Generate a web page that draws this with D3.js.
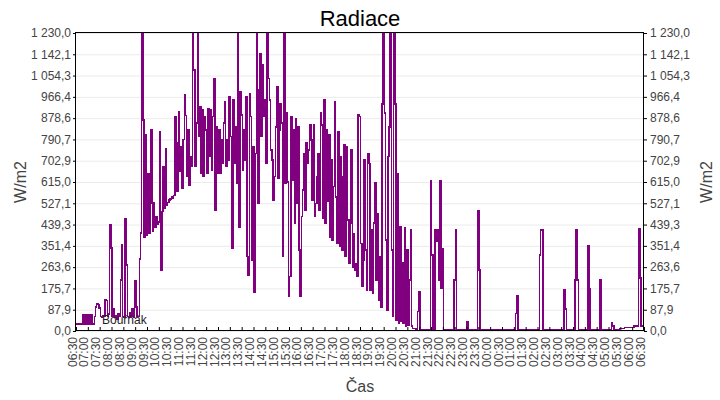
<!DOCTYPE html>
<html>
<head>
<meta charset="utf-8">
<script src="https://cdn.jsdelivr.net/npm/d3@7"></script>
<style>
  body { margin: 0; background: #fff; }
  text { font-family: "Liberation Sans", Arial, sans-serif; }
</style>
</head>
<body>
<div id="chart"></div>
<script>
// samples every 3 minutes, starting 06:30
const sampleMinutes = 3
const startTime = new Date(2024, 5, 1, 6, 30)
const endTime = new Date(2024, 5, 2, 6, 30)

const yTicks = [0, 87.9, 175.7, 263.6, 351.4, 439.3, 527.1, 615.0, 702.9, 790.7, 878.6, 966.4, 1054.3, 1142.1, 1230.0]
const seriesName = "Bouřňák"

const radiace = [
  // 06:30
  28,28,28,28,28,28,28,28,28,28,28,28,28,28,28,28,60,100,112,110,
  // 07:30
  95,60,55,65,60,130,125,60,70,437,342,60,90,55,65,50,70,60,210,355,
  // 08:30
  60,55,462,272,60,55,75,60,90,55,208,100,60,60,297,404,1230,871,389,809,
  // 09:30
  395,651,405,528,830,410,528,430,470,440,450,823,252,493,678,505,754,520,530,540,
  // 10:30
  545,555,548,560,885,776,575,905,660,760,590,790,974,890,640,830,600,720,680,1230,
  // 11:30
  1077,678,858,1230,802,926,651,913,637,885,830,651,919,720,913,665,885,1043,500,843,
  // 12:30
  651,830,651,788,692,858,947,678,788,706,967,802,342,954,692,843,610,1230,430,988,
  // 13:30
  892,665,830,706,967,307,231,981,885,293,761,162,733,1230,528,995,1146,802,1098,885,
  // 14:30
  954,692,1230,1043,954,747,706,541,637,843,1009,630,830,940,858,307,1230,610,899,616,
  // 15:30
  142,224,885,623,830,445,878,528,843,334,142,472,582,733,500,775,692,747,850,788,
  // 16:30
  541,850,472,527,637,733,500,899,850,465,954,445,830,534,809,389,706,376,596,947,
  // 17:30
  554,362,823,348,720,334,637,768,307,761,458,279,445,747,265,403,252,279,224,892,
  // 18:30
  885,362,183,293,706,334,169,733,692,169,417,156,445,610,211,486,128,307,100,936,
  // 19:30
  1230,899,376,87,720,843,1230,334,59,1230,936,45,651,30,430,40,281,30,425,20,
  // 20:30
  334,25,210,417,20,11,11,10,8,80,162,7,7,7,7,7,7,7,7,7,
  // 21:30
  619,314,7,7,417,369,417,210,619,176,341,7,7,7,7,7,7,7,7,7,
  // 22:30
  210,417,7,7,7,7,7,7,7,7,7,38,7,7,7,7,7,7,7,7,
  // 23:30
  497,252,7,7,7,7,7,7,7,7,7,7,7,7,7,7,7,7,7,7,
  // 00:30
  7,7,7,7,7,7,7,7,7,7,7,7,73,144,7,7,7,7,7,7,
  // 01:30
  7,7,7,7,7,7,7,7,7,7,7,7,314,417,417,7,7,7,7,7,
  // 02:30
  7,7,7,7,7,7,7,7,7,7,7,7,7,172,91,7,7,7,7,7,
  // 03:30
  7,7,210,417,210,7,7,7,7,7,7,7,7,351,176,7,7,7,7,7,
  // 04:30
  7,7,7,210,7,7,7,7,7,7,7,7,7,32,21,7,7,7,7,7,
  // 05:30
  11,11,11,11,15,15,15,15,15,15,15,15,21,21,21,21,421,219,21,21,
  // 06:30
  21
]

let data = radiace.map((v, i) => ({
  time: d3.timeMinute.offset(startTime, i * sampleMinutes),
  value: v
}))

var width = 720, height = 400
var margin = {top: 33, right: 76, bottom: 69, left: 76}

var cz = d3.formatLocale({decimal: ",", thousands: " ", grouping: [3], currency: ["", " Kč"]})
var fmt = cz.format(",.1f")

var svg = d3.select("#chart")
  .append("svg")
  .attr("width", width)
  .attr("height", height)

svg.append("rect")
  .attr("width", width)
  .attr("height", height)
  .attr("fill", "#fff")

var x = d3.scaleTime()
  .domain([startTime, endTime])
  .range([margin.left, width - margin.right])

var y = d3.scaleLinear()
  .domain([0, 1230])
  .range([height - margin.bottom, margin.top])

// gridlines
svg.append("g")
  .attr("transform", "translate(" + margin.left + ",0)")
  .call(d3.axisLeft(y).tickValues(yTicks).tickSize(-(width - margin.left - margin.right)).tickFormat(""))
  .call(g => g.select(".domain").remove())
  .call(g => g.selectAll("line").attr("stroke", "#ebebeb"))

svg.append("clipPath")
  .attr("id", "plot")
  .append("rect")
  .attr("x", margin.left)
  .attr("y", margin.top)
  .attr("width", width - margin.left - margin.right)
  .attr("height", height - margin.top - margin.bottom)

svg.append("path")
  .attr("clip-path", "url(#plot)")
  .attr("d", d3.line().curve(d3.curveStep).x(d => x(d.time)).y(d => y(d.value))(data))
  .attr("stroke", "#800080")
  .attr("stroke-width", 1.5)
  .attr("shape-rendering", "crispEdges")
  .attr("fill", "none")

// frame
svg.append("rect")
  .attr("x", margin.left - 0.5)
  .attr("y", margin.top - 0.5)
  .attr("width", width - margin.left - margin.right)
  .attr("height", height - margin.top - margin.bottom)
  .attr("fill", "none")
  .attr("stroke", "#000")

// y axes
svg.append("g")
  .attr("transform", "translate(" + margin.left + ",0)")
  .call(d3.axisLeft(y).tickValues(yTicks).tickFormat(fmt).tickSize(3).tickSizeOuter(0).tickPadding(2))
  .call(g => g.select(".domain").remove())
  .call(g => g.selectAll("text").attr("font-size", 12).attr("fill", "#444").style("font-family", "Liberation Sans, Arial"))

svg.append("g")
  .attr("transform", "translate(" + (width - margin.right) + ",0)")
  .call(d3.axisRight(y).tickValues(yTicks).tickFormat(fmt).tickSize(3).tickSizeOuter(0).tickPadding(3))
  .call(g => g.select(".domain").remove())
  .call(g => g.selectAll("text").attr("font-size", 12).attr("fill", "#444").style("font-family", "Liberation Sans, Arial"))

// x axis, ticks pointing inside
svg.append("g")
  .attr("transform", "translate(0," + (height - margin.bottom) + ")")
  .call(d3.axisBottom(x).ticks(d3.timeMinute.every(30)).tickFormat(d3.timeFormat("%H:%M")).tickSize(-4).tickSizeOuter(0))
  .call(g => g.select(".domain").remove())
  .call(g => g.selectAll("line").attr("stroke", "#000"))
  .call(g => g.selectAll("text")
    .attr("transform", "rotate(-90)")
    .attr("text-anchor", "end")
    .attr("x", -6)
    .attr("y", 0)
    .attr("dy", "0")
    .attr("font-size", 12)
    .attr("fill", "#444")
    .style("font-family", "Liberation Sans, Arial"))

// titles
svg.append("text")
  .attr("x", width / 2)
  .attr("y", 26)
  .attr("text-anchor", "middle")
  .attr("font-size", 22)
  .attr("fill", "#000")
  .text("Radiace")

svg.append("text")
  .attr("x", width / 2)
  .attr("y", 392)
  .attr("text-anchor", "middle")
  .attr("font-size", 16)
  .attr("fill", "#444")
  .text("Čas")

svg.append("text")
  .attr("transform", "translate(26," + ((margin.top + height - margin.bottom) / 2) + ") rotate(-90)")
  .attr("text-anchor", "middle")
  .attr("font-size", 16)
  .attr("fill", "#444")
  .text("W/m2")

svg.append("text")
  .attr("transform", "translate(712," + ((margin.top + height - margin.bottom) / 2) + ") rotate(-90)")
  .attr("text-anchor", "middle")
  .attr("font-size", 16)
  .attr("fill", "#444")
  .text("W/m2")

// legend
svg.append("rect")
  .attr("x", 82)
  .attr("y", 314)
  .attr("width", 11)
  .attr("height", 11)
  .attr("fill", "#800080")

svg.append("text")
  .attr("x", 102)
  .attr("y", 324)
  .attr("font-size", 12)
  .attr("fill", "#222")
  .text(seriesName)
</script>
</body>
</html>
